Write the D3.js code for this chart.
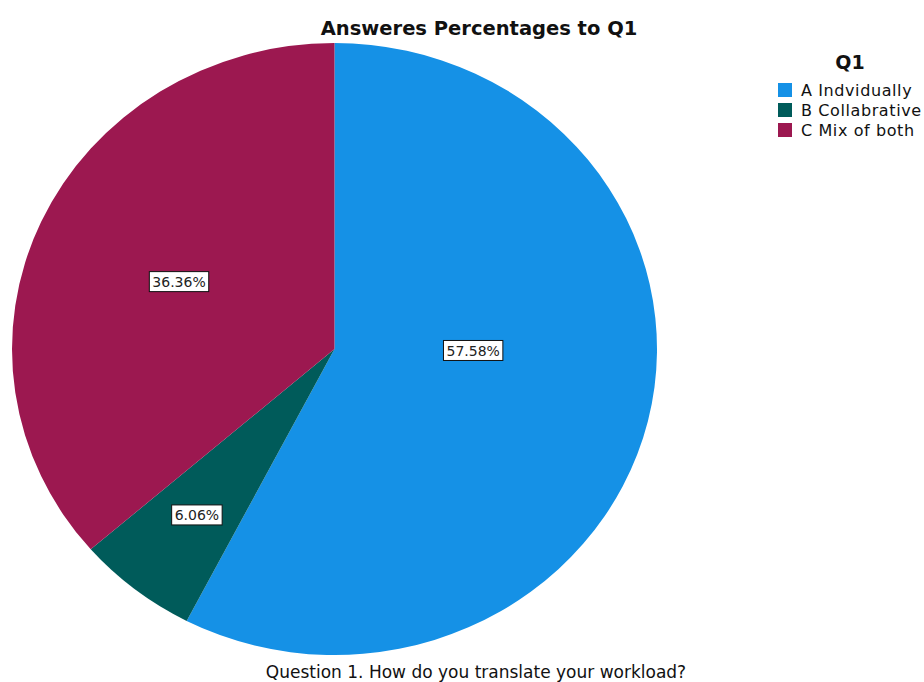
<!DOCTYPE html>
<html>
<head>
<meta charset="utf-8">
<script src="https://cdn.jsdelivr.net/npm/d3@7"></script>
<style>
  body { margin: 0; background: #fff; }
  svg { display: block; }
</style>
</head>
<body>
<script>
// data
const categories = ["A Indvidually", "B Collabrative", "C Mix of both"];
const percents = [57.58, 6.06, 36.36];
const colors = ["#1591e6", "#005b5a", "#9c1850"];

const title = "Answeres Percentages to Q1";
const legendTitle = "Q1";
const footer = "Question 1. How do you translate your workload?";

const width = 924;
const height = 682;

// pie is slightly wider than tall in the reference
const cx = 334.5;
const cy = 349;
const ry = 306;
const rx = 322.5;

// label placement: [angle offset (deg), radius fraction]
const labelPlace = [
  [-13, 0.43],
  [0, 0.69],
  [0, 0.53],
];

const svg = d3
  .select("body")
  .append("svg")
  .attr("width", width)
  .attr("height", height);

const pie = d3.pie().sort(null).value((d) => d);
const arcs = pie(percents);
const arc = d3.arc().innerRadius(0).outerRadius(ry);

const pieGroup = svg
  .append("g")
  .attr("transform", `translate(${cx} ${cy}) scale(${rx / ry} 1)`);

pieGroup
  .selectAll("path")
  .data(arcs)
  .enter()
  .append("path")
  .attr("d", arc)
  .attr("fill", (d, i) => colors[i]);

// value labels
const fmt = (v) => `${v.toFixed(2)}%`;

const labels = svg
  .append("g")
  .selectAll("g")
  .data(arcs)
  .enter()
  .append("g")
  .attr("transform", (d, i) => {
    const a = (d.startAngle + d.endAngle) / 2 + (labelPlace[i][0] * Math.PI) / 180;
    const r = ry * labelPlace[i][1];
    const x = cx + Math.sin(a) * r * (rx / ry);
    const y = cy - Math.cos(a) * r;
    return `translate(${x} ${y})`;
  });

labels
  .append("text")
  .attr("text-anchor", "middle")
  .attr("dy", "0.36em")
  .attr("font-family", "DejaVu Sans, sans-serif")
  .attr("font-size", 14)
  .attr("fill", "#222")
  .text((d) => fmt(d.data));

labels.each(function () {
  const g = d3.select(this);
  const bb = g.select("text").node().getBBox();
  g.insert("rect", "text")
    .attr("x", bb.x - 3)
    .attr("y", -10)
    .attr("width", bb.width + 6)
    .attr("height", 20)
    .attr("fill", "#fff")
    .attr("stroke", "#111")
    .attr("stroke-width", 1);
});

// title
svg
  .append("text")
  .attr("x", 479)
  .attr("y", 35)
  .attr("text-anchor", "middle")
  .attr("font-family", "DejaVu Sans, sans-serif")
  .attr("font-weight", "bold")
  .attr("font-size", 19.5)
  .attr("fill", "#111")
  .text(title);

// legend
const legend = svg.append("g").attr("transform", "translate(778 0)");

legend
  .append("text")
  .attr("x", 72)
  .attr("y", 69)
  .attr("text-anchor", "middle")
  .attr("font-family", "DejaVu Sans, sans-serif")
  .attr("font-weight", "bold")
  .attr("font-size", 19)
  .attr("fill", "#111")
  .text(legendTitle);

const items = legend
  .selectAll("g.item")
  .data(categories)
  .enter()
  .append("g")
  .attr("class", "item")
  .attr("transform", (d, i) => `translate(0 ${83 + i * 20})`);

items
  .append("rect")
  .attr("width", 14)
  .attr("height", 14)
  .attr("fill", (d, i) => colors[i]);

items
  .append("text")
  .attr("x", 23)
  .attr("y", 13)
  .attr("font-family", "DejaVu Sans, sans-serif")
  .attr("font-size", 16)
  .attr("letter-spacing", 0.6)
  .attr("fill", "#111")
  .text((d) => d);

// footer
svg
  .append("text")
  .attr("x", 476)
  .attr("y", 678)
  .attr("text-anchor", "middle")
  .attr("font-family", "DejaVu Sans, sans-serif")
  .attr("font-size", 17)
  .attr("fill", "#111")
  .text(footer);
</script>
</body>
</html>
